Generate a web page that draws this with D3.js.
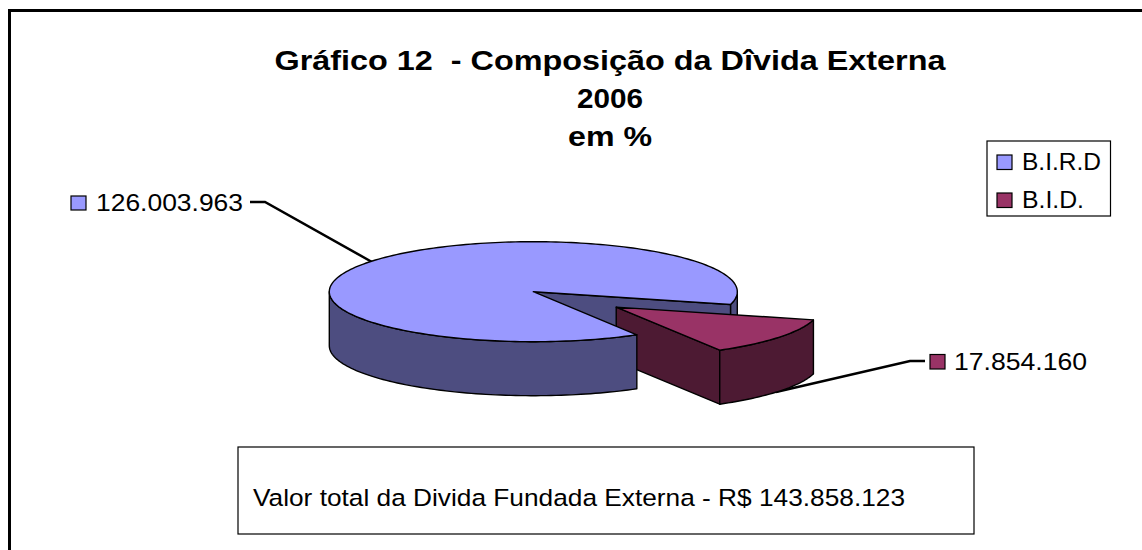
<!DOCTYPE html>
<html>
<head>
<meta charset="utf-8">
<script src="https://cdn.jsdelivr.net/npm/d3@7"></script>
<style>
  html, body { margin: 0; background: #fff; }
  text { font-family: "Liberation Sans", Arial, sans-serif; fill: #000; }
</style>
</head>
<body>
<div id="myChart"></div>
<script>
const categories = ["B.I.R.D", "B.I.D."];
const values = [126003963, 17854160];
const valueLabels = ["126.003.963", "17.854.160"];
const titleLines = ["Gráfico 12  - Composição da Dîvida Externa", "2006", "em %"];
const note = "Valor total da Divida Fundada Externa - R$ 143.858.123";

const width = 1142, height = 550;
const topColors = ["#9999ff", "#993366"];
const wallColors = ["#4d4d80", "#4d1a33"];

let svg = d3.select("#myChart").append("svg")
  .attr("width", width)
  .attr("height", height)
  .style("display", "block");

// text is wider than the font's normal proportions in the picture, so force the width
function label(x, y, str, size, w, bold, anchor) {
  return svg.append("text")
    .attr("x", x).attr("y", y)
    .attr("font-size", size)
    .attr("font-weight", bold ? "bold" : "normal")
    .attr("text-anchor", anchor || "start")
    .attr("textLength", w)
    .attr("lengthAdjust", "spacingAndGlyphs")
    .style("white-space", "pre")
    .text(str);
}

// frame: only top and left sides show
svg.append("path").attr("d", "M9.5,550V10.5H1142")
  .attr("fill", "none").attr("stroke", "#000").attr("stroke-width", 3);

// title
label(610, 70, titleLines[0], 28.5, 671, true, "middle");
label(610, 108, titleLines[1], 28.5, 66, true, "middle");
label(610, 146, titleLines[2], 28.5, 84, true, "middle");

// pie, angles clockwise from east in the unprojected circle
const pieAngle = d3.pie().sort(null)
  .startAngle(59.5 * Math.PI / 180)
  .endAngle((360 + 59.5) * Math.PI / 180);
const arcs = pieAngle(values);

const cx = 533.3, cy = 291.7, rx = 204, ry = 50, depth = 54, explode = 0.51;
const xScale = d3.scaleLinear().domain([-1, 1]).range([cx - rx, cx + rx]);
const yScale = d3.scaleLinear().domain([-1, 1]).range([cy - ry, cy + ry]);

const line = d3.line().x(d => xScale(d[0])).y(d => yScale(d[1]) + (d[2] || 0));

function sample(a0, a1, ox, oy, dz) {
  const n = Math.max(2, Math.ceil(Math.abs(a1 - a0) * 40));
  return d3.range(n + 1).map(i => {
    const a = a0 + (a1 - a0) * i / n;
    return [ox + Math.cos(a), oy + Math.sin(a), dz];
  });
}
function topPath(a0, a1, ox, oy) {
  return line([[ox, oy, 0]].concat(sample(a0, a1, ox, oy, 0))) + "Z";
}
function wallPath(a0, a1, ox, oy) {
  return line(sample(a0, a1, ox, oy, 0).concat(sample(a1, a0, ox, oy, depth))) + "Z";
}
function facePath(a, ox, oy) {
  const p = [ox + Math.cos(a), oy + Math.sin(a)];
  return line([[ox, oy, 0], [p[0], p[1], 0], [p[0], p[1], depth], [ox, oy, depth]]) + "Z";
}
function piece(d, fill) {
  svg.append("path").attr("d", d).attr("fill", fill)
    .attr("stroke", "#000").attr("stroke-width", 1.4).attr("stroke-linejoin", "round");
}

const big = arcs[0], small = arcs[1];
const bigEnd = big.endAngle, bigStart = big.startAngle;
const mid = (small.startAngle + small.endAngle) / 2 - 2 * Math.PI;
const sa = small.startAngle - 2 * Math.PI, ea = small.endAngle - 2 * Math.PI;
const ox = explode * Math.cos(mid), oy = explode * Math.sin(mid);

// leader lines sit behind the pie
svg.append("path").attr("d", "M250,202H265L372,262")
  .attr("fill", "none").attr("stroke", "#000").attr("stroke-width", 2.5);
svg.append("path").attr("d", "M925,361H910L776,392")
  .attr("fill", "none").attr("stroke", "#000").attr("stroke-width", 2.5);

// back pieces of the big slice
piece(wallPath(0, sa, 0, 0), wallColors[0]);
piece(facePath(sa, 0, 0), wallColors[0]);
// exploded slice
piece(facePath(ea, ox, oy), wallColors[1]);
piece(wallPath(sa, ea, ox, oy), wallColors[1]);
piece(topPath(sa, ea, ox, oy), topColors[1]);
// front of the big slice
piece(wallPath(bigStart, Math.PI, 0, 0), wallColors[0]);
piece(topPath(bigStart, bigEnd, 0, 0), topColors[0]);

// data labels
svg.append("rect").attr("x", 71).attr("y", 196).attr("width", 15).attr("height", 14)
  .attr("fill", topColors[0]).attr("stroke", "#000").attr("stroke-width", 1.2);
label(96, 210.5, valueLabels[0], 24.5, 147);
svg.append("rect").attr("x", 930).attr("y", 354.5).attr("width", 15).attr("height", 14.5)
  .attr("fill", topColors[1]).attr("stroke", "#000").attr("stroke-width", 1.2);
label(954, 370, valueLabels[1], 24.5, 133);

// legend
svg.append("rect").attr("x", 987).attr("y", 141).attr("width", 123.5).attr("height", 75)
  .attr("fill", "#fff").attr("stroke", "#000").attr("stroke-width", 1.2);
categories.forEach((c, i) => {
  svg.append("rect").attr("x", 997).attr("y", 155 + i * 38).attr("width", 15).attr("height", 14.5)
    .attr("fill", topColors[i]).attr("stroke", "#000").attr("stroke-width", 1.2);
  label(1022, 170 + i * 38, c, 24, i ? 62 : 79);
});

// note box
svg.append("rect").attr("x", 238).attr("y", 447).attr("width", 736).attr("height", 87)
  .attr("fill", "#fff").attr("stroke", "#000").attr("stroke-width", 1.2);
label(253, 506, note, 24.5, 652);
</script>
</body>
</html>
